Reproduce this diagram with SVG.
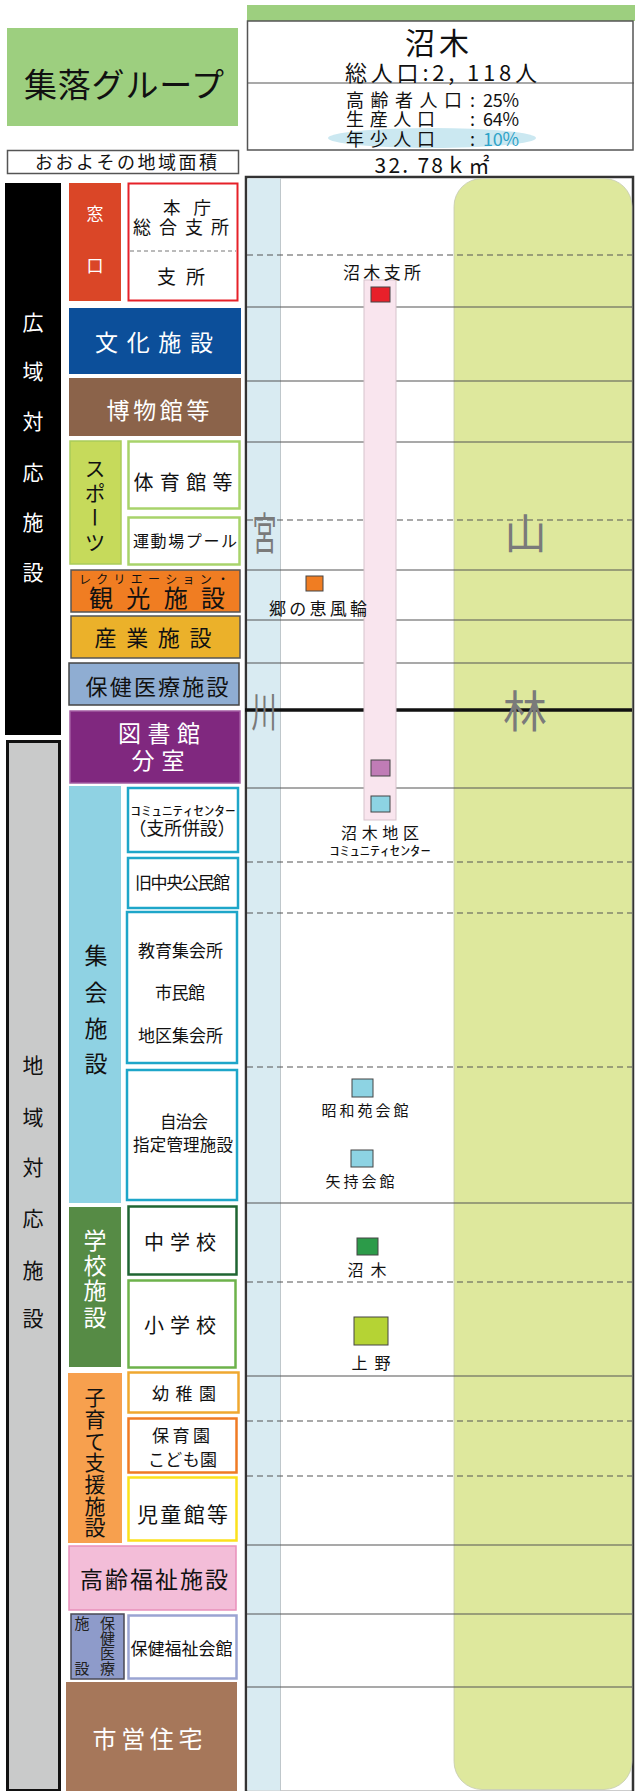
<svg xmlns="http://www.w3.org/2000/svg" width="635" height="1791" viewBox="0 0 635 1791">
<style>
text{font-family:"Noto Sans CJK JP","Noto Sans",sans-serif;fill:#111}
.m{text-anchor:middle}
.w{fill:#fff}
.g{fill:#7a7a7a}
.sub{fill:#fff;stroke-width:2.5}
.hl{stroke:#555;stroke-width:1.2;fill:none}
.dl{stroke:#555;stroke-width:1.2;stroke-dasharray:6 4;fill:none}
.sq{stroke:#444;stroke-width:1}
.vt{writing-mode:vertical-rl;text-anchor:middle}
</style>
<rect width="635" height="1791" fill="#fff"/>

<g id="header">
  <rect x="7" y="28" width="231" height="98" fill="#9dcf7f"/>
  <text x="124" y="97" class="m" font-size="33" textLength="200">集落グループ</text>
  <rect x="7.5" y="150.5" width="231" height="23" fill="#fff" stroke="#555" stroke-width="1.5"/>
  <text x="126" y="169" class="m" font-size="18" textLength="182">おおよその地域面積</text>
  <rect x="247" y="5" width="388" height="16" fill="#9dcf7f"/>
  <rect x="247.5" y="21" width="385.5" height="129" fill="#fff" stroke="#555" stroke-width="1.5"/>
  <line x1="247" y1="83" x2="634" y2="83" stroke="#555" stroke-width="1.2"/>
  <text x="437" y="53.5" class="m" font-size="30" textLength="64">沼木</text>
  <text x="441" y="80.5" class="m" font-size="22" textLength="192">総人口:2, 118人</text>
  <ellipse cx="432" cy="138" rx="104" ry="10" fill="#cbe8f1"/>
  <text x="346" y="107" font-size="18" textLength="116">高齢者人口</text>
  <text x="470" y="107" font-size="18">:</text>
  <text x="483" y="107" font-size="18" textLength="36">25%</text>
  <text x="346" y="126" font-size="18" textLength="89">生産人口</text>
  <text x="470" y="126" font-size="18">:</text>
  <text x="483" y="126" font-size="18" textLength="36">64%</text>
  <text x="346" y="146" font-size="18" textLength="89">年少人口</text>
  <text x="470" y="146" font-size="18">:</text>
  <text x="483" y="146" font-size="18" textLength="36" style="fill:#2fa3c8">10%</text>
  <text x="432" y="173" class="m" font-size="21" textLength="115">32. 78ｋ㎡</text>
</g>

<g id="map-background">
  <rect x="246" y="177" width="387" height="1615" fill="#fff" stroke="#333" stroke-width="2.5"/>
  <rect x="247.5" y="178.5" width="33" height="1612" fill="#d9ebf2"/>
  <line x1="280.5" y1="178" x2="280.5" y2="1791" stroke="#bfc7cb" stroke-width="1"/>
  <rect x="454" y="178.5" width="178" height="1611" rx="28" fill="#dee89d" stroke="#c4c9b0" stroke-width="0.8"/>
</g>

<g id="connectors">
  <line class="dl" x1="247" y1="255" x2="632" y2="255"/>
  <line class="hl" x1="247" y1="307" x2="632" y2="307"/>
  <line class="hl" x1="247" y1="381" x2="632" y2="381"/>
  <line class="hl" x1="247" y1="442" x2="632" y2="442"/>
  <line class="dl" x1="247" y1="520" x2="632" y2="520"/>
  <line class="hl" x1="247" y1="570" x2="632" y2="570"/>
  <line class="hl" x1="247" y1="620" x2="632" y2="620"/>
  <line class="hl" x1="247" y1="663" x2="632" y2="663"/>
  <line x1="245" y1="710" x2="632" y2="710" stroke="#111" stroke-width="3.5"/>
  <line class="hl" x1="247" y1="788" x2="632" y2="788" stroke="#222"/>
  <line class="dl" x1="247" y1="862" x2="632" y2="862"/>
  <line class="dl" x1="247" y1="913" x2="632" y2="913"/>
  <line class="dl" x1="247" y1="1067" x2="632" y2="1067"/>
  <line class="hl" x1="247" y1="1203" x2="632" y2="1203"/>
  <line class="dl" x1="247" y1="1282" x2="632" y2="1282"/>
  <line class="hl" x1="247" y1="1376" x2="632" y2="1376"/>
  <line class="dl" x1="247" y1="1421" x2="632" y2="1421"/>
  <line class="dl" x1="247" y1="1476" x2="632" y2="1476"/>
  <line class="hl" x1="247" y1="1545" x2="632" y2="1545"/>
  <line class="hl" x1="247" y1="1614" x2="632" y2="1614"/>
  <line class="hl" x1="247" y1="1687" x2="632" y2="1687"/>
</g>

<g id="map-labels">
  <text class="g m" font-size="44" transform="translate(264.5 550) scale(0.55 1)">宮</text>
  <text class="g m" font-size="42" transform="translate(264 727) scale(0.6 1)">川</text>
  <text class="g m" x="525.5" y="549" font-size="42">山</text>
  <text class="g m" x="525" y="728" font-size="44">林</text>
</g>

<g id="road-strip">
  <rect x="364" y="280" width="32" height="540" fill="#f9e5ee" stroke="#d6c3cc" stroke-width="1"/>
</g>

<g id="site-numaki-shisho">
  <text x="382" y="278.5" class="m" font-size="17" textLength="78">沼木支所</text>
  <rect class="sq" x="371" y="287" width="19" height="15" fill="#e8202a"/>
</g>
<g id="site-satonomegumi">
  <rect class="sq" x="306" y="576" width="17" height="15" fill="#f07d22"/>
  <text x="318" y="614.5" class="m" font-size="17" textLength="98">郷の恵風輪</text>
</g>
<g id="site-library">
  <rect class="sq" x="371" y="760" width="19" height="16" fill="#c07cb6"/>
</g>
<g id="site-community">
  <rect class="sq" x="371" y="796" width="19" height="16" fill="#8dd3e3"/>
  <text x="380" y="839" class="m" font-size="16" textLength="78">沼木地区</text>
  <text x="380" y="855" class="m" font-size="13" textLength="101" lengthAdjust="spacingAndGlyphs">ｺﾐｭﾆﾃｨｾﾝﾀｰ</text>
</g>
<g id="site-showaen">
  <rect class="sq" x="352" y="1079" width="21" height="18" fill="#8dd3e3"/>
  <text x="365" y="1116" class="m" font-size="15" textLength="87">昭和苑会館</text>
</g>
<g id="site-yamochi">
  <rect class="sq" x="351" y="1150" width="22" height="17" fill="#8dd3e3"/>
  <text x="360" y="1186.5" class="m" font-size="15" textLength="69">矢持会館</text>
</g>
<g id="site-numaki-jhs">
  <rect class="sq" x="357" y="1238" width="21" height="17" fill="#2c9b49"/>
  <text x="367" y="1275.5" class="m" font-size="16" textLength="39">沼木</text>
</g>
<g id="site-ueno-es">
  <rect class="sq" x="354" y="1317" width="34" height="28" fill="#b5d334"/>
  <text x="371" y="1369" class="m" font-size="16" textLength="39">上野</text>
</g>

<g id="wide-area">
  <rect x="5" y="183" width="56" height="552" fill="#000"/>
  <text class="w m" font-size="21"><tspan x="33" y="330">広</tspan><tspan x="33" y="379">域</tspan><tspan x="33" y="429">対</tspan><tspan x="33" y="480">応</tspan><tspan x="33" y="530">施</tspan><tspan x="33" y="580">設</tspan></text>
</g>
<g id="local-area">
  <rect x="7.5" y="741.5" width="52" height="1049" fill="#c9caca" stroke="#111" stroke-width="3"/>
  <text class="m" font-size="21"><tspan x="33" y="1073">地</tspan><tspan x="33" y="1125">域</tspan><tspan x="33" y="1175">対</tspan><tspan x="33" y="1226">応</tspan><tspan x="33" y="1278">施</tspan><tspan x="33" y="1326">設</tspan></text>
</g>

<g id="madoguchi">
  <rect x="69" y="183" width="52" height="118" fill="#da4627"/>
  <text class="w m" font-size="17"><tspan x="95" y="219.5">窓</tspan><tspan x="95" y="271.5">口</tspan></text>
</g>
<g id="honcho-shisho">
  <rect x="128.5" y="183.5" width="109" height="117" fill="#fff" stroke="#e62129" stroke-width="2"/>
  <line x1="130" y1="251" x2="236" y2="251" stroke="#777" stroke-width="1" stroke-dasharray="4 3"/>
  <text x="187" y="213.5" class="m" font-size="17.5" textLength="48">本庁</text>
  <text x="181" y="233.5" class="m" font-size="18" textLength="96">総合支所</text>
  <text x="181" y="283.5" class="m" font-size="19" textLength="48">支所</text>
</g>
<g id="bunka">
  <rect x="69" y="308" width="172" height="66" fill="#0c4f9a"/>
  <text x="154" y="350.5" class="w m" font-size="23" textLength="118">文化施設</text>
</g>
<g id="hakubutsukan">
  <rect x="69" y="378" width="172" height="58" fill="#8b634a"/>
  <text x="158" y="418.5" class="w m" font-size="23" textLength="103">博物館等</text>
</g>
<g id="sports">
  <rect x="70" y="441" width="51" height="123" fill="#c6da5b" stroke="#a9cc5a" stroke-width="1.5"/>
  <text x="95" y="507" class="vt" font-size="21" letter-spacing="3.5">スポーツ</text>
</g>
<g id="taiikukan">
  <rect class="sub" x="128.5" y="441.5" width="111" height="67" stroke="#a8d36b"/>
  <text x="183" y="489.5" class="m" font-size="20" textLength="99">体育館等</text>
</g>
<g id="undojo">
  <rect class="sub" x="128.5" y="517.5" width="111" height="47" stroke="#a8d36b"/>
  <text x="185" y="547" class="m" font-size="16" textLength="104">運動場プール</text>
</g>
<g id="kanko">
  <rect x="71" y="570" width="169" height="42" fill="#f07d22" stroke="#555" stroke-width="1.5"/>
  <text x="154" y="584" class="m" font-size="12" textLength="150">レクリエーション・</text>
  <text x="157" y="606.5" class="m" font-size="24" textLength="136">観光施設</text>
</g>
<g id="sangyo">
  <rect x="71" y="616" width="169" height="42" fill="#ebb12a" stroke="#555" stroke-width="1.5"/>
  <text x="153" y="646" class="m" font-size="22" textLength="117">産業施設</text>
</g>
<g id="hoken-iryo">
  <rect x="69" y="663" width="170" height="42" fill="#8fadd2" stroke="#444" stroke-width="1.5"/>
  <text x="157" y="695" class="m" font-size="22" textLength="143">保健医療施設</text>
</g>
<g id="toshokan">
  <rect x="70" y="711" width="170" height="72" fill="#80287f" stroke="#a35ca3" stroke-width="1.5"/>
  <text x="159" y="741.5" class="w m" font-size="23" textLength="82">図書館</text>
  <text x="158" y="768.5" class="w m" font-size="23" textLength="53">分室</text>
</g>
<g id="shukai">
  <rect x="69" y="786" width="52" height="417" fill="#8fd2e3"/>
  <text class="m" font-size="23"><tspan x="96" y="964">集</tspan><tspan x="96" y="1001">会</tspan><tspan x="96" y="1037">施</tspan><tspan x="96" y="1072">設</tspan></text>
</g>
<g id="community-center">
  <rect class="sub" x="128" y="788" width="110" height="64" stroke="#1ea6c9"/>
  <text x="183" y="814.5" class="m" font-size="13" textLength="105" lengthAdjust="spacingAndGlyphs">ｺﾐｭﾆﾃｨｾﾝﾀｰ</text>
  <text x="182" y="835" class="m" font-size="18" textLength="107">（支所併設）</text>
</g>
<g id="kyu-chuo">
  <rect class="sub" x="128" y="858" width="110" height="50" stroke="#1ea6c9"/>
  <text x="182.5" y="888.5" class="m" font-size="17" textLength="95">旧中央公民館</text>
</g>
<g id="shukaijo">
  <rect class="sub" x="127" y="912" width="110" height="151" stroke="#1ea6c9"/>
  <text x="180.5" y="956.5" class="m" font-size="17" textLength="85">教育集会所</text>
  <text x="180" y="998.5" class="m" font-size="17" textLength="50">市民館</text>
  <text x="180.5" y="1041.5" class="m" font-size="17" textLength="85">地区集会所</text>
</g>
<g id="jichikai">
  <rect class="sub" x="127" y="1070" width="110" height="130" stroke="#1ea6c9"/>
  <text x="184" y="1128" class="m" font-size="16.5" textLength="48">自治会</text>
  <text x="183" y="1150.5" class="m" font-size="16.5" textLength="100">指定管理施設</text>
</g>
<g id="gakko">
  <rect x="69" y="1207" width="52" height="160" fill="#568b45"/>
  <text class="w m" font-size="23"><tspan x="95" y="1248.5">学</tspan><tspan x="95" y="1273.5">校</tspan><tspan x="95" y="1298.5">施</tspan><tspan x="95" y="1325.5">設</tspan></text>
</g>
<g id="chugakko">
  <rect class="sub" x="128.5" y="1206.5" width="108" height="68" stroke="#1f6532" stroke-width="3"/>
  <text x="180" y="1249.5" class="m" font-size="20" textLength="72">中学校</text>
</g>
<g id="shogakko">
  <rect class="sub" x="128.5" y="1280.5" width="107" height="87" stroke="#6db24b" stroke-width="3"/>
  <text x="180" y="1332.5" class="m" font-size="20" textLength="72">小学校</text>
</g>
<g id="kosodate">
  <rect x="68" y="1373" width="54" height="170" fill="#f7a04e"/>
  <text class="m" font-size="21"><tspan x="95" y="1404.5">子</tspan><tspan x="95" y="1426.5">育</tspan><tspan x="95" y="1448.5">て</tspan><tspan x="95" y="1469.5">支</tspan><tspan x="95" y="1491.5">援</tspan><tspan x="95" y="1513.5">施</tspan><tspan x="95" y="1535">設</tspan></text>
</g>
<g id="yochien">
  <rect class="sub" x="128.5" y="1372.5" width="110" height="40" stroke="#efa830" stroke-width="3"/>
  <text x="184" y="1400" class="m" font-size="17" textLength="64">幼稚園</text>
</g>
<g id="hoikuen">
  <rect class="sub" x="128.5" y="1418.5" width="108" height="54" stroke="#ef7b25" stroke-width="3"/>
  <text x="181" y="1442" class="m" font-size="17" textLength="58">保育園</text>
  <text x="182.5" y="1466" class="m" font-size="17" textLength="69">こども園</text>
</g>
<g id="jidokan">
  <rect class="sub" x="128.5" y="1477.5" width="108" height="63" stroke="#fbe11d" stroke-width="3"/>
  <text x="182.5" y="1522" class="m" font-size="21" textLength="91">児童館等</text>
</g>
<g id="korei">
  <rect x="69" y="1546" width="167" height="64" fill="#f3bdd8" stroke="#e990bb" stroke-width="1.5"/>
  <text x="154" y="1587.5" class="m" font-size="23" textLength="148">高齢福祉施設</text>
</g>
<g id="hoken-small">
  <rect x="71" y="1614" width="53" height="65" fill="#8e9bca" stroke="#4a4a55" stroke-width="1.5"/>
  <text class="m" font-size="15" style="fill:#222"><tspan x="107.5" y="1628.5">保</tspan><tspan x="107.5" y="1644">健</tspan><tspan x="107.5" y="1659">医</tspan><tspan x="107.5" y="1673.5">療</tspan><tspan x="82" y="1628.5">施</tspan><tspan x="82" y="1673.5">設</tspan></text>
</g>
<g id="hoken-fukushi">
  <rect class="sub" x="128.5" y="1615.5" width="108" height="63" stroke="#9aa4d2" stroke-width="3"/>
  <text x="181.5" y="1655" class="m" font-size="17" textLength="102">保健福祉会館</text>
</g>
<g id="shiei">
  <rect x="66" y="1682" width="171" height="109" fill="#a6775a"/>
  <text x="147.5" y="1748" class="w m" font-size="24" textLength="110">市営住宅</text>
</g>
</svg>
